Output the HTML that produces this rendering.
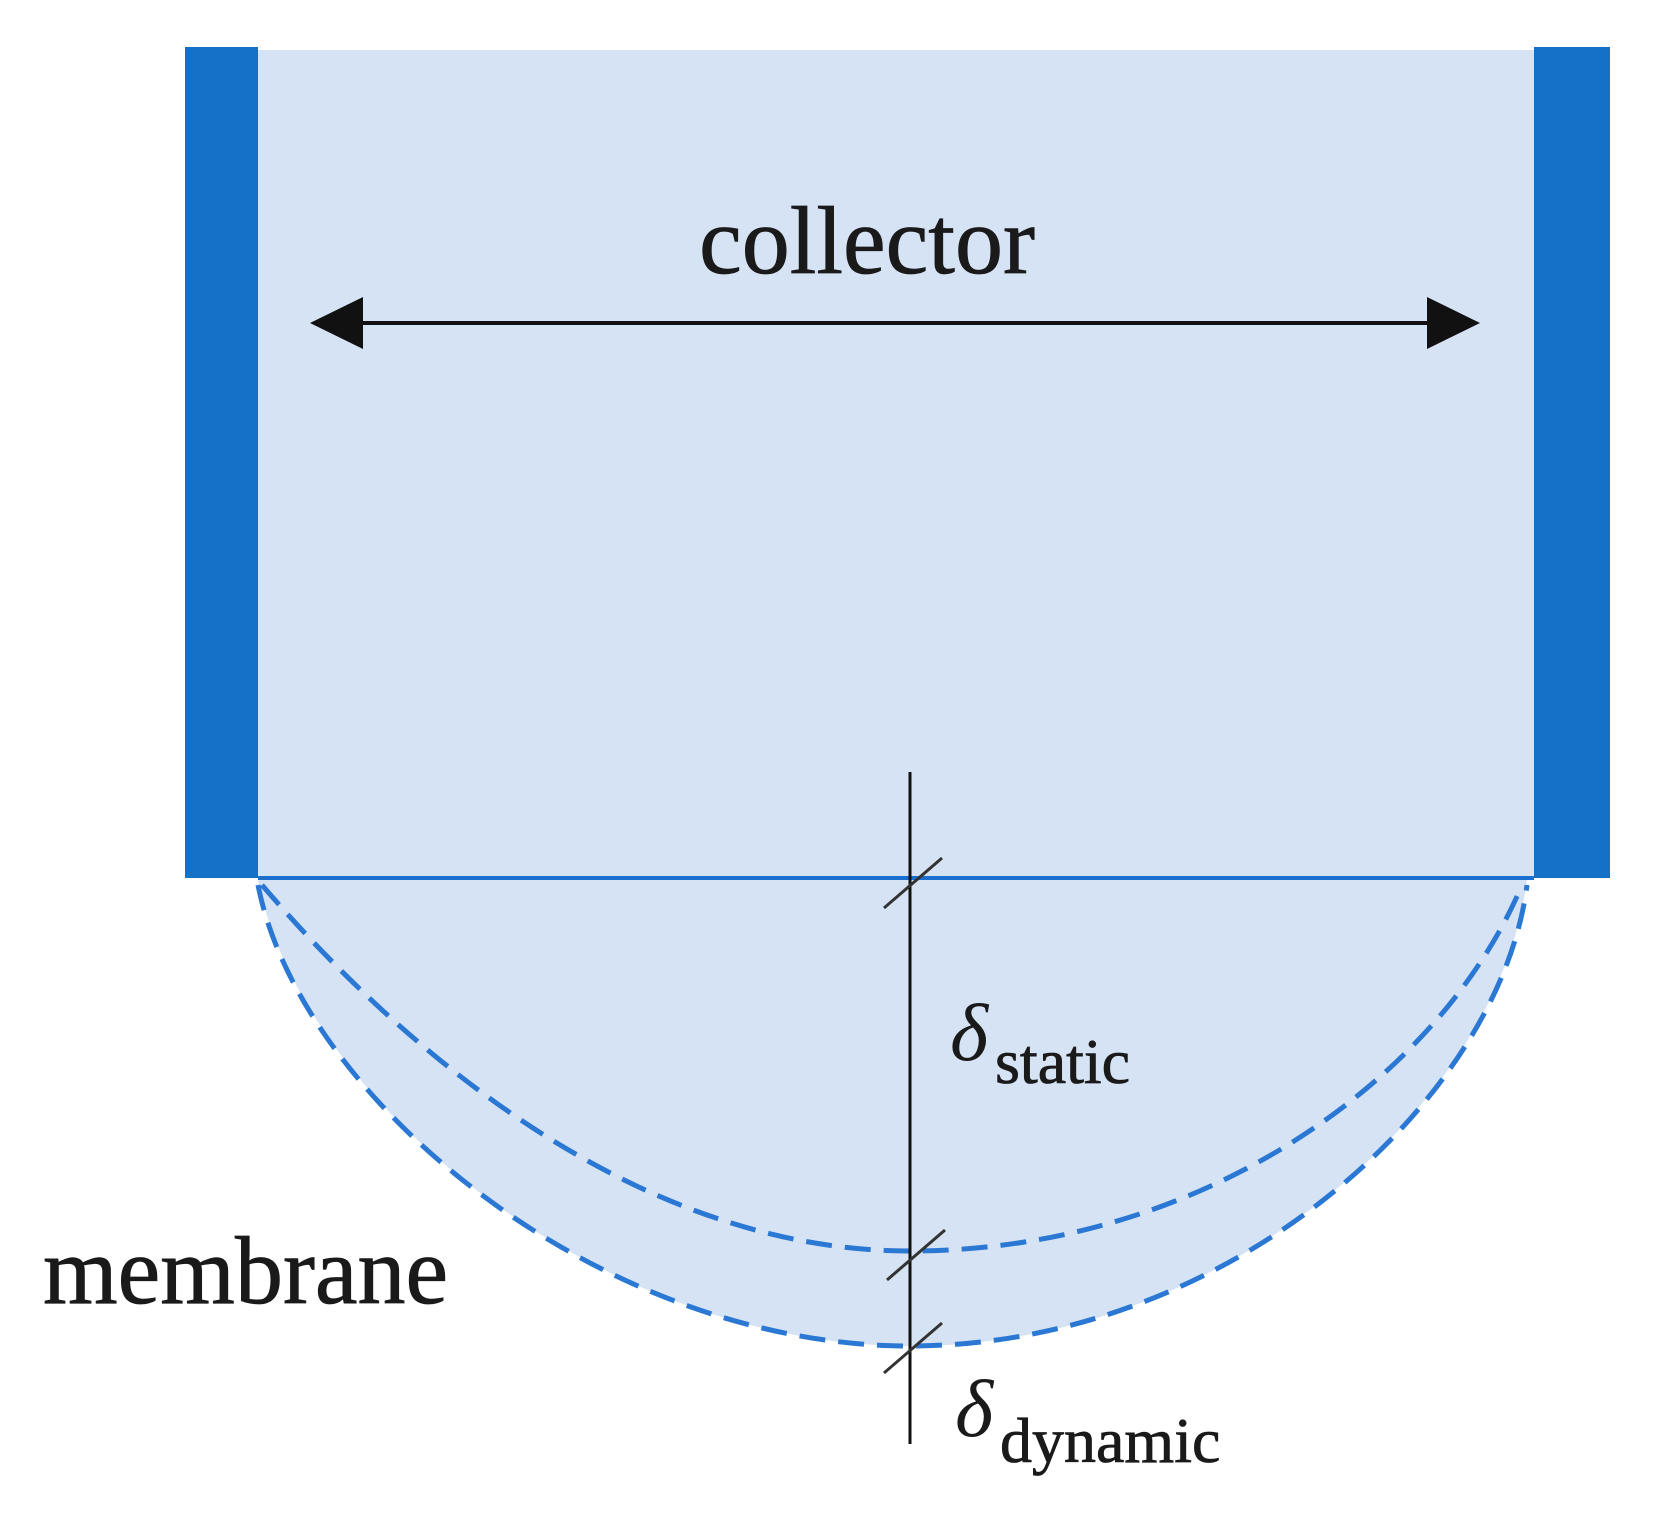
<!DOCTYPE html>
<html><head><meta charset="utf-8"><style>html,body{margin:0;padding:0;background:#fff}svg{display:block}</style></head>
<body>
<svg width="1661" height="1520" viewBox="0 0 1661 1520" xmlns="http://www.w3.org/2000/svg">
<rect x="0" y="0" width="1661" height="1520" fill="#fff"/>
<rect x="258" y="50" width="1276" height="828" fill="#d6e3f4"/>
<path d="M258,880 C300,1100 600,1346 910,1346 C1230,1346 1500,1100 1527,880 Z" fill="#d6e3f4"/>
<rect x="185" y="47" width="73" height="831" fill="#1570c8"/>
<rect x="1534" y="47" width="76" height="831" fill="#1570c8"/>
<line x1="258" y1="878" x2="1534" y2="878" stroke="#1a6fcf" stroke-width="4"/>
<path d="M258,885 C300,1100 600,1346 910,1346 C1230,1346 1500,1100 1527,885" fill="none" stroke="#2a78d4" stroke-width="5" stroke-dasharray="26 13"/>
<path d="M262,885 C420,1070 650,1251 910,1251 C1200,1251 1440,1080 1522,885" fill="none" stroke="#2a78d4" stroke-width="5" stroke-dasharray="26 13"/>
<line x1="355" y1="323" x2="1435" y2="323" stroke="#111" stroke-width="4"/>
<polygon points="310,323 363,297 363,349" fill="#111"/>
<polygon points="1480,323 1427,297 1427,349" fill="#111"/>
<text x="867" y="273" text-anchor="middle" font-family="Liberation Serif, serif" font-size="96" fill="#1a1a1a" stroke="#1a1a1a" stroke-width="0.8">collector</text>
<text x="43" y="1303" font-family="Liberation Serif, serif" font-size="96" fill="#1a1a1a" stroke="#1a1a1a" stroke-width="0.8">membrane</text>
<line x1="910" y1="772" x2="910" y2="1444" stroke="#111" stroke-width="3"/>
<line x1="884" y1="908" x2="942" y2="858" stroke="#333" stroke-width="3"/>
<line x1="887" y1="1280" x2="945" y2="1230" stroke="#333" stroke-width="3"/>
<line x1="884" y1="1373" x2="942" y2="1323" stroke="#333" stroke-width="3"/>
<text x="950" y="1060" font-family="Liberation Serif, serif" font-style="italic" font-size="82" fill="#1a1a1a">δ</text>
<text x="995" y="1083" font-family="Liberation Serif, serif" font-size="64" fill="#1a1a1a" stroke="#1a1a1a" stroke-width="0.8">static</text>
<text x="955" y="1436" font-family="Liberation Serif, serif" font-style="italic" font-size="82" fill="#1a1a1a">δ</text>
<text x="1000" y="1462" font-family="Liberation Serif, serif" font-size="64" fill="#1a1a1a" stroke="#1a1a1a" stroke-width="0.8">dynamic</text>
</svg>
</body></html>
